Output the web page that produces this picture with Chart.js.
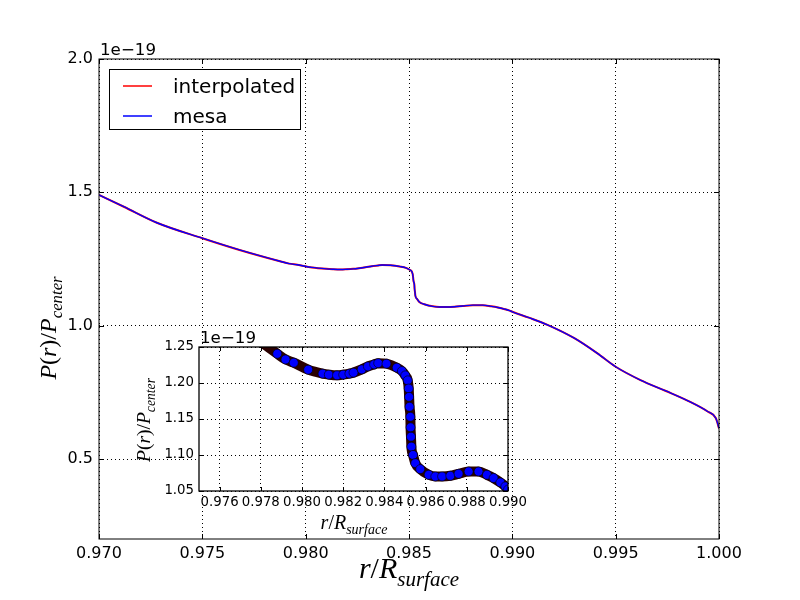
<!DOCTYPE html>
<html>
<head>
<meta charset="utf-8">
<script src="https://cdn.jsdelivr.net/npm/chart.js@4.4.1/dist/chart.umd.min.js"></script>
<style>
  html, body { margin: 0; padding: 0; background: #fff; }
  #wrap { position: relative; width: 800px; height: 600px; }
  #wrap canvas { position: absolute; left: 0; top: 0; }
</style>
</head>
<body>
<div id="wrap">
  <canvas id="main" width="800" height="600"></canvas>
  <canvas id="inset" width="800" height="600"></canvas>
</div>
<script>
// r / R_surface (mesa grid points)
const radius = [
  0.9700, 0.9712, 0.9728, 0.9750, 0.9768,
  0.9788, 0.9792, 0.9796, 0.9803, 0.9810, 0.9813, 0.9817, 0.9820, 0.9823,
  0.9825, 0.9829, 0.9832, 0.9835, 0.9837, 0.9841, 0.9846, 0.98485, 0.98501,
  0.98513, 0.98518, 0.98520, 0.98522, 0.98526, 0.98527, 0.98529, 0.98531,
  0.98539, 0.98550, 0.98574, 0.98615, 0.98647, 0.98680, 0.98720, 0.98760,
  0.98809, 0.98857, 0.98898, 0.98930, 0.98963, 0.98987,
  0.9900, 0.9908, 0.9917, 0.9930, 0.9941, 0.9950, 0.9962, 0.9974, 0.9985,
  0.99945, 0.99985, 1.0000
];
// P(r) / P_center, in units of 1e-19
const pressure = [
  1.490, 1.446, 1.386, 1.328, 1.284,
  1.2406, 1.2327, 1.2282, 1.2185, 1.2130, 1.2116, 1.2106, 1.2116, 1.2130,
  1.2144, 1.2189, 1.2230, 1.2258, 1.2276, 1.2268, 1.2213, 1.2166, 1.2106,
  1.2037, 1.1923, 1.1807, 1.1669, 1.1530, 1.1384, 1.1254, 1.1116,
  1.1001, 1.0887, 1.0804, 1.0725, 1.0702, 1.0702, 1.0711, 1.0739,
  1.0770, 1.0770, 1.0725, 1.0680, 1.0619, 1.0564,
  1.052, 1.030, 1.003, 0.953, 0.897, 0.846, 0.796, 0.756, 0.718,
  0.678, 0.653, 0.615
];
// the interpolated profile lies on top of the mesa one everywhere in the picture
const interpolated = pressure;

const seriesNames = ['interpolated', 'mesa'];
const seriesColors = ['#ff0000', '#0000ff'];

const mainXTicks = [0.970, 0.975, 0.980, 0.985, 0.990, 0.995, 1.000];
const mainYTicks = [0.5, 1.0, 1.5, 2.0];
const insetXTicks = [0.976, 0.978, 0.980, 0.982, 0.984, 0.986, 0.988, 0.990];
const insetYTicks = [1.05, 1.10, 1.15, 1.20, 1.25];
const offsetText = '1e\u221219';

const toPoints = ys => radius.map((r, i) => ({ x: r, y: ys[i] }));

// draws "P(r)/P_center" style labels: [text, italic, subscript]
function drawMath(ctx, parts, size, x, y, angle) {
  ctx.save();
  ctx.translate(x, y);
  ctx.rotate(angle);
  const font = p => (p[1] ? 'italic ' : '') + (p[2] ? size * 0.7 : size) + 'px "Liberation Serif"';
  let w = 0;
  parts.forEach(p => { ctx.font = font(p); w += ctx.measureText(p[0]).width; });
  let cx = -w / 2;
  ctx.fillStyle = '#000';
  ctx.textBaseline = 'alphabetic';
  parts.forEach(p => {
    ctx.font = font(p);
    ctx.fillText(p[0], cx, p[2] ? size * 0.25 : 0);
    cx += ctx.measureText(p[0]).width;
  });
  ctx.restore();
}

const yLabel = [['P', true], ['(', false], ['r', true], [')', false], ['/', false], ['P', true], ['center', true, true]];
const xLabel = [['r', true], ['/', false], ['R', true], ['surface', true, true]];

// inward ticks on all four sides + black frame
const frameTicks = {
  id: 'frameTicks',
  afterDatasetsDraw(chart, args, opts) {
    const { ctx, chartArea: a, scales: { x, y } } = chart;
    const len = opts.len;
    ctx.save();
    ctx.setLineDash([]);
    ctx.strokeStyle = '#000';
    ctx.lineWidth = 1;
    ctx.beginPath();
    x.ticks.forEach(t => {
      const px = Math.round(x.getPixelForValue(t.value)) + 0.5;
      ctx.moveTo(px, a.bottom); ctx.lineTo(px, a.bottom - len);
      ctx.moveTo(px, a.top); ctx.lineTo(px, a.top + len);
    });
    y.ticks.forEach(t => {
      const py = Math.round(y.getPixelForValue(t.value)) + 0.5;
      ctx.moveTo(a.left, py); ctx.lineTo(a.left + len, py);
      ctx.moveTo(a.right, py); ctx.lineTo(a.right - len, py);
    });
    ctx.stroke();
    ctx.lineWidth = opts.width;
    ctx.strokeRect(a.left, a.top, a.right - a.left, a.bottom - a.top);
    ctx.restore();
  }
};

// text around the axes: offset "1e-19", math axis titles, legend
const annotations = {
  id: 'annotations',
  beforeDraw(chart, args, opts) {
    if (!opts.whiteArea) return;
    const { ctx, chartArea: a } = chart;
    ctx.save();
    ctx.fillStyle = '#fff';
    ctx.fillRect(a.left, a.top, a.right - a.left, a.bottom - a.top);
    ctx.restore();
  },
  afterDraw(chart, args, opts) {
    const { ctx, chartArea: a } = chart;
    ctx.save();
    ctx.fillStyle = '#000';
    ctx.font = opts.offsetSize + 'px "DejaVu Sans"';
    ctx.textBaseline = 'alphabetic';
    ctx.fillText(offsetText, a.left + 1, a.top - opts.offsetGap);
    ctx.restore();

    drawMath(ctx, xLabel, opts.xSize, opts.xPos[0], opts.xPos[1], 0);
    drawMath(ctx, yLabel, opts.ySize, opts.yPos[0], opts.yPos[1], -Math.PI / 2);

    if (opts.legend) {
      const L = opts.legend;
      ctx.save();
      ctx.fillStyle = '#fff';
      ctx.strokeStyle = '#000';
      ctx.lineWidth = 1;
      ctx.fillRect(L.x, L.y, L.w, L.h);
      ctx.strokeRect(L.x + 0.5, L.y + 0.5, L.w, L.h);
      chart.data.datasets.forEach((ds, i) => {
        const ly = L.y + 17 + i * 30;
        ctx.strokeStyle = ds.borderColor;
        ctx.lineWidth = 1.5;
        ctx.beginPath();
        ctx.moveTo(L.x + 14, ly);
        ctx.lineTo(L.x + 43, ly);
        ctx.stroke();
        ctx.fillStyle = '#000';
        ctx.font = '20px "DejaVu Sans"';
        ctx.fillText(ds.label, L.x + 64, ly + 7);
      });
      ctx.restore();
    }
  }
};

function axis(min, max, ticks, digits, size, pad, fitSize, horizontal) {
  return {
    type: 'linear',
    min: min,
    max: max,
    afterBuildTicks: s => { s.ticks = ticks.map(v => ({ value: v })); },
    afterFit: s => { if (horizontal) s.height = fitSize; else s.width = fitSize; },
    ticks: {
      color: '#000',
      padding: pad,
      maxRotation: 0,
      font: { family: 'DejaVu Sans', size: size },
      callback: v => Number(v).toFixed(digits)
    },
    grid: { color: '#000', lineWidth: 1, drawTicks: false },
    border: { display: false, dash: [1, 3] }
  };
}

Chart.defaults.animation = false;

// order: higher value is drawn first, so mesa (order 0) ends up on top
new Chart(document.getElementById('main'), {
  type: 'scatter',
  data: {
    datasets: [
      {
        label: seriesNames[0], data: toPoints(interpolated), showLine: true, order: 1,
        cubicInterpolationMode: 'monotone',
        borderColor: seriesColors[0], borderWidth: 2, pointRadius: 0, clip: 0
      },
      {
        label: seriesNames[1], data: toPoints(pressure), showLine: true, order: 0,
        cubicInterpolationMode: 'monotone',
        borderColor: seriesColors[1], borderWidth: 1.4, pointRadius: 0, clip: 0
      }
    ]
  },
  options: {
    responsive: false,
    devicePixelRatio: 1,
    layout: { padding: { left: 39, right: 81, top: 59, bottom: 21 } },
    scales: {
      x: axis(0.970, 1.000, mainXTicks, 3, 16, 5, 40, true),
      y: axis(0.2, 2.0, mainYTicks, 1, 16, 6, 60, false)
    },
    plugins: {
      legend: { display: false },
      tooltip: { enabled: false },
      frameTicks: { len: 5, width: 1 },
      annotations: {
        offsetSize: 16.7, offsetGap: 4,
        xSize: 30, xPos: [409, 578],
        ySize: 24, yPos: [56, 328],
        legend: { x: 109, y: 69, w: 191, h: 60 }
      }
    }
  },
  plugins: [frameTicks, annotations]
});

new Chart(document.getElementById('inset'), {
  type: 'scatter',
  data: {
    datasets: [
      {
        label: seriesNames[0], data: toPoints(interpolated), showLine: true, order: 1,
        cubicInterpolationMode: 'monotone',
        borderColor: '#2a0000', borderWidth: 10, pointRadius: 0, clip: 0
      },
      {
        label: seriesNames[1], data: toPoints(pressure), showLine: false, order: 0,
        backgroundColor: seriesColors[1], borderColor: '#000', borderWidth: 0.6,
        pointRadius: 4.5, clip: 0
      }
    ]
  },
  options: {
    responsive: false,
    devicePixelRatio: 1,
    layout: { padding: { left: 139, right: 292, top: 347, bottom: 69 } },
    scales: {
      x: axis(0.975, 0.990, insetXTicks, 3, 13.3, 4, 40, true),
      y: axis(1.05, 1.25, insetYTicks, 2, 13.3, 5, 60, false)
    },
    plugins: {
      legend: { display: false },
      tooltip: { enabled: false },
      frameTicks: { len: 4, width: 1.3 },
      annotations: {
        whiteArea: true,
        offsetSize: 16.7, offsetGap: 4,
        xSize: 20, xPos: [354, 529],
        ySize: 19.5, yPos: [150, 420]
      }
    }
  },
  plugins: [frameTicks, annotations]
});
</script>
</body>
</html>
